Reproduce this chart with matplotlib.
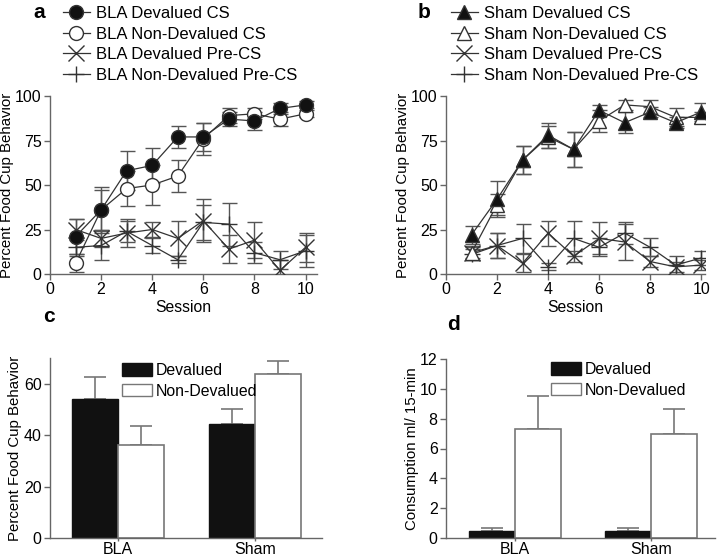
import matplotlib
matplotlib.use("Agg")
import matplotlib.pyplot as plt
from matplotlib.lines import Line2D
from matplotlib.patches import Patch
import numpy as np

plt.rcParams['font.family'] = ['Liberation Sans', 'DejaVu Sans']

# data
sessions = [1, 2, 3, 4, 5, 6, 7, 8, 9, 10]

bla_dev_cs = [21, 36, 58, 61, 77, 77, 87, 86, 93, 95]
bla_dev_cs_err = [10, 13, 11, 10, 6, 8, 4, 5, 3, 2]
bla_nondev_cs = [6, 36, 48, 50, 55, 76, 89, 90, 87, 90]
bla_nondev_cs_err = [5, 11, 10, 11, 9, 9, 4, 3, 4, 2]
bla_dev_pre = [25, 20, 23, 25, 20, 30, 14, 19, 2, 15]
bla_dev_pre_err = [6, 5, 8, 4, 10, 12, 8, 10, 6, 8]
bla_nondev_pre = [15, 16, 24, 16, 8, 29, 28, 12, 8, 13]
bla_nondev_pre_err = [5, 8, 6, 4, 2, 10, 12, 6, 5, 9]

sham_dev_cs = [22, 42, 64, 78, 70, 92, 85, 91, 85, 91]
sham_dev_cs_err = [5, 10, 8, 7, 10, 3, 6, 3, 3, 5]
sham_nondev_cs = [12, 39, 64, 77, 70, 86, 95, 94, 88, 88]
sham_nondev_cs_err = [4, 6, 8, 6, 10, 6, 3, 4, 5, 3]
sham_dev_pre = [12, 16, 6, 23, 10, 20, 18, 7, 4, 5]
sham_dev_pre_err = [3, 7, 5, 7, 3, 9, 10, 3, 3, 3]
sham_nondev_pre = [11, 16, 20, 4, 20, 15, 23, 15, 5, 9]
sham_nondev_pre_err = [3, 7, 8, 2, 10, 5, 6, 5, 5, 4]

groups = ["BLA", "Sham"]
fc_dev = [54, 44.3]
fc_dev_err = [8.7, 6.0]
fc_nondev = [36, 63.6]
fc_nondev_err = [7.7, 5.4]
cons_dev = [0.44, 0.5]
cons_dev_err = [0.22, 0.18]
cons_nondev = [7.3, 6.96]
cons_nondev_err = [2.2, 1.7]

W, H = 720, 560
LINE = "#333333"
ERR = "#555555"
AX = "#666666"
FS = 11.5
LFS = 10.8


def axes_px(l, r, t, b):
    return fig.add_axes([l / W, 1 - b / H, (r - l) / W, (b - t) / H])


def style(ax):
    for s in ["top", "right"]:
        ax.spines[s].set_visible(False)
    for s in ["left", "bottom"]:
        ax.spines[s].set_color(AX)
        ax.spines[s].set_linewidth(1.0)
    ax.tick_params(direction="out", length=4, width=1, color=AX, labelsize=FS, pad=2)


fig = plt.figure(figsize=(W / 100, H / 100), dpi=100)

series_a = [
    (bla_dev_cs, bla_dev_cs_err, "o", "#111111", "BLA Devalued CS"),
    (bla_nondev_cs, bla_nondev_cs_err, "o", "white", "BLA Non-Devalued CS"),
    (bla_dev_pre, bla_dev_pre_err, "x", LINE, "BLA Devalued Pre-CS"),
    (bla_nondev_pre, bla_nondev_pre_err, "+", LINE, "BLA Non-Devalued Pre-CS"),
]
series_b = [
    (sham_dev_cs, sham_dev_cs_err, "^", "#111111", "Sham Devalued CS"),
    (sham_nondev_cs, sham_nondev_cs_err, "^", "white", "Sham Non-Devalued CS"),
    (sham_dev_pre, sham_dev_pre_err, "x", LINE, "Sham Devalued Pre-CS"),
    (sham_nondev_pre, sham_nondev_pre_err, "+", LINE, "Sham Non-Devalued Pre-CS"),
]


def line_panel(ax, series, xmax, leg_x, letter, letter_x):
    handles = []
    for vals, err, mk, fcol, lab in reversed(series):
        ms = 10 if mk in ("o", "^") else 11
        ax.errorbar(sessions, vals, yerr=err, fmt="none", ecolor=ERR,
                    elinewidth=1, capsize=5.4, capthick=1, zorder=2)
        ax.plot(sessions, vals, color=LINE, lw=0.9, marker=mk, ms=ms,
                mfc=fcol, mec=LINE, mew=1.0, zorder=3)
    for vals, err, mk, fcol, lab in series:
        ms = 10 if mk in ("o", "^") else 11
        handles.append(Line2D([], [], color=LINE, lw=0.9, marker=mk, ms=ms,
                              mfc=fcol, mec=LINE, mew=1.0))
    ax.set_xlim(0, xmax)
    ax.set_ylim(0, 100)
    ax.set_xticks([0, 2, 4, 6, 8, 10])
    ax.set_yticks([0, 25, 50, 75, 100])
    ax.set_xlabel("Session", fontsize=LFS + 0.5, labelpad=2)
    ax.set_ylabel("Percent Food Cup Behavior", fontsize=LFS, labelpad=1)
    style(ax)
    ax.legend(handles, [s[4] for s in series], loc="upper left",
              bbox_to_anchor=(leg_x / W, 1 - 6 / H), bbox_transform=fig.transFigure,
              frameon=False, fontsize=FS + 0.5, handlelength=1.6, handletextpad=0.4,
              labelspacing=0.34, borderpad=0, borderaxespad=0)
    fig.text(letter_x / W, 1 - 13 / H, letter, fontsize=15, fontweight="bold",
             va="center", ha="left")


ax_a = axes_px(50, 317, 96, 274)
line_panel(ax_a, series_a, 10.45, 63, "a", 33)
ax_b = axes_px(446, 705, 96, 274)
line_panel(ax_b, series_b, 10.15, 451, "b", 418)


def bar_panel(ax, dev, dev_err, nondev, nondev_err, ylim, yticks, ylabel,
              xlim, leg_xy, letter, letter_xy):
    x = np.arange(len(groups))
    w = 0.335
    ax.bar(x - w / 2, dev, w, color="#111111", edgecolor="#111111", lw=1, zorder=2)
    ax.bar(x + w / 2, nondev, w, color="white", edgecolor="#777777", lw=1.2, zorder=2)
    ax.errorbar(x - w / 2, dev, yerr=[np.zeros(len(dev)), dev_err], fmt="none",
                ecolor="#777777", elinewidth=1.2, capsize=8, capthick=1.2, zorder=1)
    ax.errorbar(x + w / 2, nondev, yerr=[np.zeros(len(nondev)), nondev_err], fmt="none",
                ecolor="#777777", elinewidth=1.2, capsize=8, capthick=1.2, zorder=1)
    ax.set_xlim(*xlim)
    ax.set_ylim(*ylim)
    ax.set_yticks(yticks)
    ax.set_xticks(x)
    ax.set_xticklabels(groups)
    ax.set_ylabel(ylabel, fontsize=LFS, labelpad=1)
    style(ax)
    ax.tick_params(axis="x", length=2, pad=1)
    handles = [Patch(facecolor="#111111", edgecolor="#111111"),
               Patch(facecolor="white", edgecolor="#777777")]
    ax.legend(handles, ["Devalued", "Non-Devalued"], loc="upper left",
              bbox_to_anchor=(leg_xy[0] / W, 1 - leg_xy[1] / H),
              bbox_transform=fig.transFigure, frameon=False, fontsize=LFS + 0.6,
              handlelength=1.9, handleheight=0.85, handletextpad=0.25,
              labelspacing=0.35, borderpad=0, borderaxespad=0)
    fig.text(letter_xy[0] / W, 1 - letter_xy[1] / H, letter, fontsize=15,
             fontweight="bold", va="center", ha="left")


ax_c = axes_px(50, 322, 358, 538)
bar_panel(ax_c, fc_dev, fc_dev_err, fc_nondev, fc_nondev_err, (0, 70),
          [0, 20, 40, 60], "Percent Food Cup Behavior", (-0.496, 1.49),
          (122, 363), "c", (43, 317))

ax_d = axes_px(446, 715, 359, 538)
bar_panel(ax_d, cons_dev, cons_dev_err, cons_nondev, cons_nondev_err, (0, 12),
          [0, 2, 4, 6, 8, 10, 12], "Consumption ml/ 15-min", (-0.507, 1.47),
          (551, 362), "d", (447, 325))

fig.savefig("out.png", dpi=100)
